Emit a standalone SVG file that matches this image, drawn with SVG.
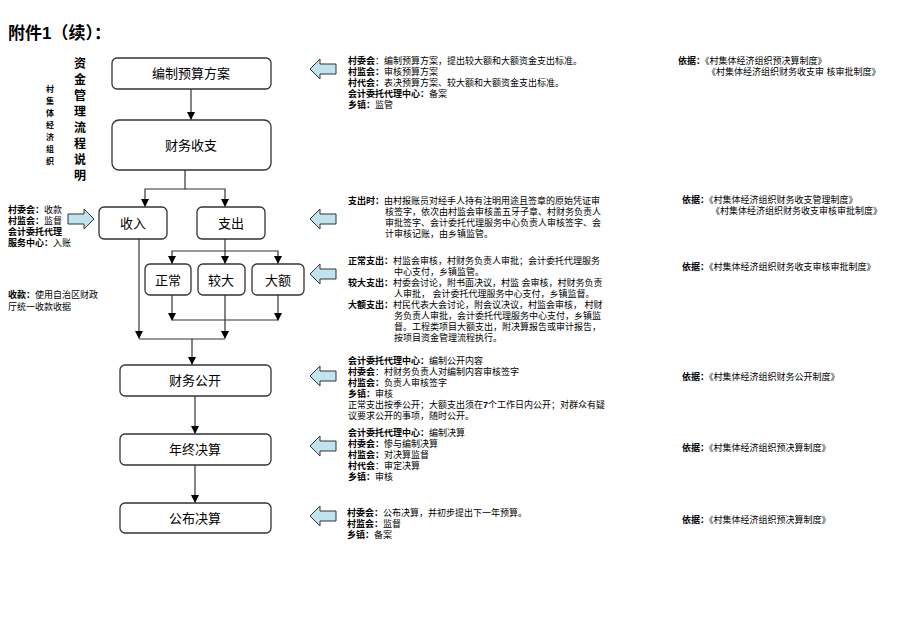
<svg xmlns="http://www.w3.org/2000/svg" width="920" height="637" viewBox="0 0 920 637">
<defs>
<marker id="ah" markerWidth="8" markerHeight="8" refX="7" refY="4" orient="auto" markerUnits="userSpaceOnUse"><path d="M0,0 L8,4 L0,8 Z" fill="#000"/></marker>
<path id="la" d="M0,10 L10,0 L10,5 L26,5 L26,15 L10,15 L10,20 Z"/>
</defs>
<style>
text{font-family:"Liberation Sans","Noto Sans CJK SC",sans-serif;fill:#000}
.box{fill:#fff;stroke:#333;stroke-width:1.3}
.bt{font-size:13px;text-anchor:middle}
.t{font-size:9px;fill:#333}
.b{font-weight:bold;fill:#000}
.ba{fill:#bfe4ee;stroke:#333;stroke-width:1}
.c{fill:none;stroke:#333;stroke-width:1.2}
</style>
<rect width="920" height="637" fill="#fff"/>
<text x="8" y="39" style="font-size:17px;font-weight:bold">附件1（续）：</text>
<g id="title" style="font-size:12px;font-weight:bold" text-anchor="middle">
<text x="80" y="68">资</text><text x="80" y="84">金</text><text x="80" y="100">管</text><text x="80" y="116">理</text><text x="80" y="132">流</text><text x="80" y="148">程</text><text x="80" y="164">说</text><text x="80" y="180">明</text>
</g>
<g id="org" style="font-size:8px;font-weight:bold" text-anchor="middle">
<text x="50" y="92">村</text><text x="50" y="104">集</text><text x="50" y="116">体</text><text x="50" y="128">经</text><text x="50" y="140">济</text><text x="50" y="152">组</text><text x="50" y="164">织</text>
</g>
<g id="n1"><rect class="box" x="112" y="58" width="159" height="31" rx="5"/><text class="bt" x="191" y="78">编制预算方案</text></g>
<g id="n2"><rect class="box" x="112" y="120" width="159" height="50" rx="7"/><text class="bt" x="191" y="150">财务收支</text></g>
<g id="n3"><rect class="box" x="99" y="207" width="68" height="32" rx="5"/><text class="bt" x="133" y="228">收入</text></g>
<g id="n4"><rect class="box" x="197" y="207" width="68" height="32" rx="5"/><text class="bt" x="231" y="228">支出</text></g>
<g id="n5"><rect class="box" x="145" y="264" width="46" height="31" rx="5"/><text class="bt" x="168" y="285">正常</text></g>
<g id="n6"><rect class="box" x="198" y="264" width="47" height="31" rx="5"/><text class="bt" x="221" y="285">较大</text></g>
<g id="n7"><rect class="box" x="252" y="264" width="52" height="31" rx="5"/><text class="bt" x="278" y="285">大额</text></g>
<g id="n8"><rect class="box" x="120" y="365" width="151" height="31" rx="5"/><text class="bt" x="195" y="385">财务公开</text></g>
<g id="n9"><rect class="box" x="120" y="434" width="151" height="31" rx="5"/><text class="bt" x="195" y="454">年终决算</text></g>
<g id="n10"><rect class="box" x="120" y="503" width="151" height="30" rx="5"/><text class="bt" x="195" y="523">公布决算</text></g>
<g id="connectors">
<path class="c" d="M191,89 V119" marker-end="url(#ah)"/>
<path class="c" d="M185,170 V189 H145 V206" marker-end="url(#ah)"/>
<path class="c" d="M185,189 H225 V206" marker-end="url(#ah)"/>
<path class="c" d="M225,239 V251 H172 V263" marker-end="url(#ah)"/>
<path class="c" d="M225,251 V263" marker-end="url(#ah)"/>
<path class="c" d="M225,251 H278 V263" marker-end="url(#ah)"/>
<path class="c" d="M172,295 V320" marker-end="url(#ah)"/>
<path class="c" d="M278,295 V320" marker-end="url(#ah)"/>
<path class="c" d="M172,320 H278"/>
<path class="c" d="M139,239 V338" marker-end="url(#ah)"/>
<path class="c" d="M225,295 V338" marker-end="url(#ah)"/>
<path class="c" d="M139,339 H225"/>
<path class="c" d="M192,339 V364" marker-end="url(#ah)"/>
<path class="c" d="M195,396 V433" marker-end="url(#ah)"/>
<path class="c" d="M195,465 V502" marker-end="url(#ah)"/>
</g>
<g id="blockarrows">
<use href="#la" class="ba" x="310" y="59"/>
<use href="#la" class="ba" x="310" y="209"/>
<use href="#la" class="ba" x="310" y="264"/>
<use href="#la" class="ba" x="310" y="366"/>
<use href="#la" class="ba" x="310" y="436"/>
<use href="#la" class="ba" x="310" y="506"/>
<use href="#la" class="ba" transform="translate(94,229) rotate(180)"/>
</g>
<g id="notes-left" class="t">
<text x="8" y="213"><tspan class="b">村委会：</tspan>收款</text>
<text x="8" y="224"><tspan class="b">村监会：</tspan>监督</text>
<text x="8" y="235" class="b">会计委托代理</text>
<text x="8" y="246"><tspan class="b">服务中心：</tspan>入账</text>
<text x="8" y="298"><tspan class="b">收款：</tspan>使用自治区财政</text>
<text x="8" y="310">厅统一收款收据</text>
</g>
<g id="notes1" class="t">
<text x="348" y="64"><tspan class="b">村委会</tspan>：编制预算方案，提出较大额和大额资金支出标准。</text>
<text x="348" y="75"><tspan class="b">村监会：</tspan>审核预算方案</text>
<text x="348" y="86"><tspan class="b">村代会：</tspan>表决预算方案、较大额和大额资金支出标准。</text>
<text x="348" y="97"><tspan class="b">会计委托代理中心：</tspan>备案</text>
<text x="348" y="108"><tspan class="b">乡镇：</tspan>监管</text>
</g>
<g id="notes2" class="t">
<text x="348" y="204"><tspan class="b">支出时：</tspan>由村报账员对经手人持有注明用途且签章的原始凭证审</text>
<text x="385" y="215">核签字，依次由村监会审核盖五牙子章、村财务负责人</text>
<text x="385" y="226">审批签字、会计委托代理服务中心负责人审核签字、会</text>
<text x="385" y="237">计审核记账，由乡镇监管。</text>
</g>
<g id="notes3" class="t">
<text x="348" y="264"><tspan class="b">正常支出：</tspan>村监会审核，村财务负责人审批；会计委托代理服务</text>
<text x="394" y="275">中心支付，乡镇监管。</text>
<text x="348" y="286"><tspan class="b">较大支出：</tspan>村委会讨论，附书面决议，村监 会审核，村财务负责</text>
<text x="394" y="297">人审批， 会计委托代理服务中心支付，乡镇监督。</text>
<text x="348" y="308"><tspan class="b">大额支出：</tspan>村民代表大会讨论，附会议决议，村监会审核， 村财</text>
<text x="394" y="319">务负责人审批，会计委托代理服务中心支付，乡镇监</text>
<text x="394" y="330">督。工程类项目大额支出，附决算报告或审计报告，</text>
<text x="394" y="341">按项目资金管理流程执行。</text>
</g>
<g id="notes4" class="t">
<text x="348" y="364"><tspan class="b">会计委托代理中心：</tspan>编制公开内容</text>
<text x="348" y="375"><tspan class="b">村委会</tspan>：村财务负责人对编制内容审核签字</text>
<text x="348" y="386"><tspan class="b">村监会：</tspan>负责人审核签字</text>
<text x="348" y="397"><tspan class="b">乡镇：</tspan>审核</text>
<text x="348" y="408">正常支出按季公开；大额支出须在<tspan class="b">7</tspan>个工作日内公开；对群众有疑</text>
<text x="348" y="419">议要求公开的事项，随时公开。</text>
</g>
<g id="notes5" class="t">
<text x="348" y="436"><tspan class="b">会计委托代理中心：</tspan>编制决算</text>
<text x="348" y="447"><tspan class="b">村委会：</tspan>惨与编制决算</text>
<text x="348" y="458"><tspan class="b">村监会：</tspan>对决算监督</text>
<text x="348" y="469"><tspan class="b">村代会</tspan>：审定决算</text>
<text x="348" y="480"><tspan class="b">乡镇：</tspan>审核</text>
</g>
<g id="notes6" class="t">
<text x="347" y="516"><tspan class="b">村委会：</tspan>公布决算，并初步提出下一年预算。</text>
<text x="347" y="527"><tspan class="b">村监会：</tspan>监督</text>
<text x="347" y="538"><tspan class="b">乡镇：</tspan>备案</text>
</g>
<g id="basis" class="t">
<text x="678" y="64"><tspan class="b">依据：</tspan>《村集体经济组织预决算制度》</text>
<text x="707" y="75">《村集体经济组织财务收支审 核审批制度》</text>
<text x="682" y="203"><tspan class="b">依据：</tspan>《村集体经济组织财务收支管理制度》</text>
<text x="711" y="214">《村集体经济组织财务收支审核审批制度》</text>
<text x="682" y="270"><tspan class="b">依据：</tspan>《村集体经济组织财务收支审核审批制度》</text>
<text x="682" y="380"><tspan class="b">依据：</tspan>《村集体经济组织财务公开制度》</text>
<text x="682" y="451"><tspan class="b">依据：</tspan>《村集体经济组织预决算制度》</text>
<text x="682" y="523"><tspan class="b">依据：</tspan>《村集体经济组织预决算制度》</text>
</g>
</svg>
